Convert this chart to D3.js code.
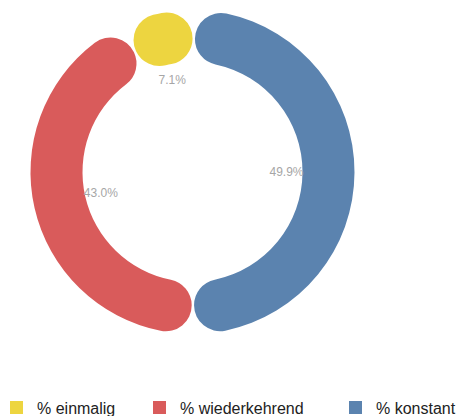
<!DOCTYPE html>
<html>
<head>
<meta charset="utf-8">
<script src="https://cdn.jsdelivr.net/npm/d3@7"></script>
<style>
html,body{margin:0;padding:0;background:#fff;}
svg{display:block;}
</style>
</head>
<body>
<svg id="chart" width="461" height="416"></svg>
<script>
// Data (ring order clockwise from the top)
const categories = ["% einmalig", "% konstant", "% wiederkehrend"];
const values = [7.1, 49.9, 43.0];
const labels = ["7.1%", "49.9%", "43.0%"];
const colors = ["#EDD540", "#5B83AF", "#D95B5B"];
// Legend order
const legendCategories = ["% einmalig", "% wiederkehrend", "% konstant"];
const legendX = [10, 153, 349];

const svg = d3.select("#chart");
const cx = 192.5, cy = 172;
const outerR = 162, innerR = 110;

const colorScale = d3.scaleOrdinal().domain(categories).range(colors);

const total = d3.sum(values);
const start = -(values[0] / total) * 2 * Math.PI;
const pie = d3.pie().sort(null).value(d => d.v)
  .startAngle(start).endAngle(start + 2 * Math.PI).padAngle(0.012);
const data = categories.map((c, i) => ({c, v: values[i], l: labels[i]}));
const arcs = pie(data);

const arc = d3.arc().innerRadius(innerR).outerRadius(outerR).cornerRadius(26);
const labelArc = d3.arc().innerRadius(94).outerRadius(94);

const g = svg.append("g").attr("transform", `translate(${cx},${cy})`);
g.selectAll("path").data(arcs).join("path")
  .attr("d", arc)
  .attr("fill", d => colorScale(d.data.c));

g.selectAll("text").data(arcs).join("text")
  .attr("transform", d => `translate(${labelArc.centroid(d)})`)
  .attr("text-anchor", "middle")
  .attr("dominant-baseline", "central")
  .attr("font-family", "Liberation Sans, Arial, sans-serif")
  .attr("font-size", 12)
  .attr("fill", "#a6a6a6")
  .text(d => d.data.l);

const lg = svg.append("g");
legendCategories.forEach((c, i) => {
  lg.append("rect").attr("x", legendX[i]).attr("y", 401)
    .attr("width", 13).attr("height", 13).attr("fill", colorScale(c));
  lg.append("text").attr("x", legendX[i] + 27).attr("y", 414)
    .attr("font-family", "Liberation Sans, Arial, sans-serif")
    .attr("font-size", 16).attr("fill", "#222")
    .text(c);
});
</script>
</body>
</html>
